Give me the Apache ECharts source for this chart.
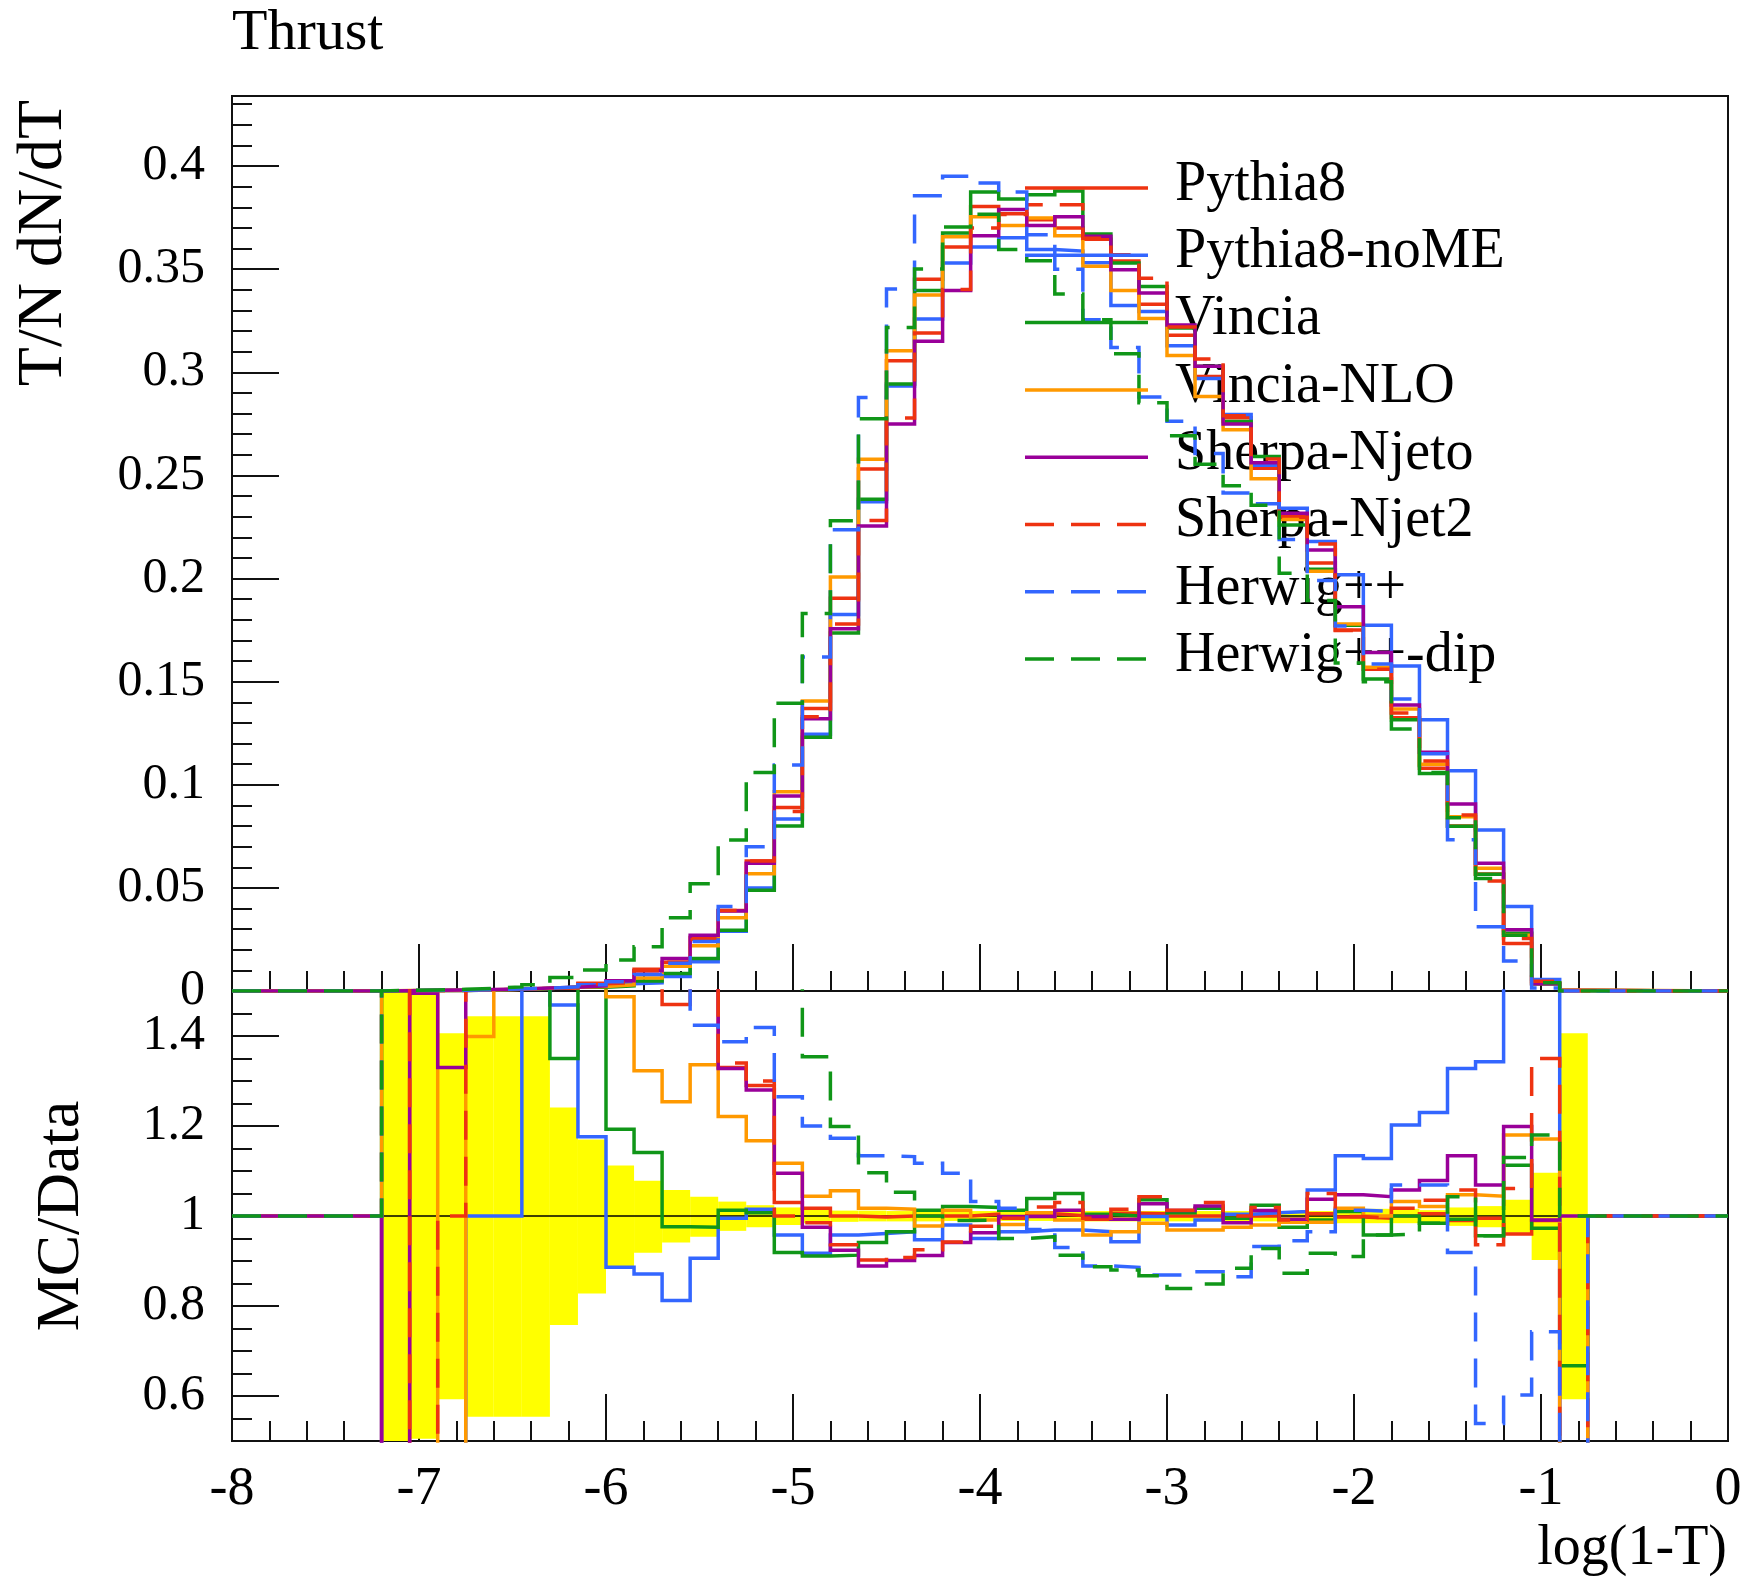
<!DOCTYPE html>
<html>
<head>
<meta charset="utf-8">
<script src="https://cdn.jsdelivr.net/npm/echarts@6/dist/echarts.min.js"></script>
<style>
  html, body { margin: 0; padding: 0; background: #ffffff; }
  #chart { width: 1747px; height: 1580px; }
</style>
</head>
<body>
<div id="chart"></div>
<script>
// ---- Binning of log(1-T) ----
const binEdges = [-7.2, -7.05, -6.9, -6.75, -6.6, -6.45, -6.3, -6.15, -6.0, -5.85, -5.7, -5.55,
  -5.4, -5.25, -5.1, -4.95, -4.8, -4.65, -4.5, -4.35, -4.2, -4.05, -3.9, -3.75, -3.6, -3.45,
  -3.3, -3.15, -3.0, -2.85, -2.7, -2.55, -2.4, -2.25, -2.1, -1.95, -1.8, -1.65, -1.5, -1.35,
  -1.2, -1.05, -0.9, -0.75];

// ---- T/N dN/dT per bin ----
const distPythia8 = [0.0001, 0.0002, 0.0004, 0.0005, 0.0008, 0.0012, 0.0018, 0.0038, 0.0043, 0.0105, 0.014, 0.026,
  0.039, 0.063, 0.089, 0.137, 0.1904, 0.2531, 0.3056, 0.3451, 0.3608, 0.3804, 0.3769, 0.374, 0.37, 0.3645,
  0.354, 0.333, 0.318, 0.298, 0.278, 0.2535, 0.23, 0.2075, 0.175, 0.156, 0.1325, 0.108, 0.080, 0.0567,
  0.023, 0.0035, 0.0002];
const distPythia8noME = [0.0001, 0.0002, 0.0003, 0.0005, 0.0008, 0.0012, 0.0018, 0.003, 0.0035, 0.004, 0.007, 0.0142,
  0.029, 0.05, 0.0834, 0.1245, 0.1826, 0.2372, 0.2934, 0.3259, 0.353, 0.3608, 0.3653, 0.3596, 0.3588, 0.3532,
  0.3324, 0.3295, 0.3129, 0.297, 0.2796, 0.255, 0.2341, 0.218, 0.2019, 0.1773, 0.1576, 0.1315, 0.1068, 0.0781,
  0.041, 0.0056, 0.0002];
const distVincia = [0.0001, 0.0002, 0.0003, 0.0005, 0.0008, 0.0012, 0.0018, 0.0018, 0.0025, 0.0048, 0.0085, 0.0158,
  0.0295, 0.0488, 0.080, 0.123, 0.1736, 0.2384, 0.2943, 0.3397, 0.3676, 0.3875, 0.384, 0.3861, 0.3879, 0.3671,
  0.353, 0.3416, 0.3215, 0.303, 0.2762, 0.2592, 0.226, 0.2045, 0.1773, 0.1513, 0.1315, 0.1055, 0.0799, 0.0566,
  0.028, 0.0035, 0.0002];
const distVinciaNLO = [0.0002, 0.0003, 0.0002, 0.0006, 0.0009, 0.0013, 0.0018, 0.0022, 0.003, 0.0063, 0.012, 0.022,
  0.0355, 0.0568, 0.0966, 0.1406, 0.2008, 0.2578, 0.3105, 0.3375, 0.3657, 0.3754, 0.3712, 0.3748, 0.3662, 0.3515,
  0.3397, 0.3261, 0.3082, 0.2883, 0.2722, 0.2484, 0.2286, 0.2035, 0.178, 0.157, 0.1367, 0.110, 0.0845, 0.0595,
  0.027, 0.004, 0.0005];
const distSherpaNjet0 = [0.0001, 0.0004, 0.0005, 0.0007, 0.001, 0.0014, 0.0018, 0.0025, 0.005, 0.0098, 0.0158, 0.027,
  0.0388, 0.062, 0.0946, 0.132, 0.1757, 0.2255, 0.2749, 0.3151, 0.3397, 0.3662, 0.379, 0.3712, 0.3754, 0.366,
  0.3498, 0.3385, 0.3229, 0.303, 0.275, 0.2562, 0.2317, 0.2138, 0.1863, 0.1642, 0.1387, 0.1158, 0.0907, 0.062,
  0.0297, 0.0035, 0.0002];
const distSherpaNjet2 = [0.0002, 0.0001, 0.0003, 0.0006, 0.0009, 0.0013, 0.0015, 0.0035, 0.004, 0.0098, 0.014, 0.025,
  0.039, 0.063, 0.087, 0.133, 0.178, 0.2282, 0.2779, 0.3191, 0.3402, 0.37, 0.3765, 0.3813, 0.3813, 0.365,
  0.357, 0.3456, 0.322, 0.3065, 0.279, 0.258, 0.2297, 0.2167, 0.1748, 0.156, 0.1348, 0.1115, 0.0854, 0.0534,
  0.0254, 0.0047, 0.0];
const distHerwig = [0.0002, 0.0003, 0.0004, 0.0006, 0.001, 0.0014, 0.002, 0.003, 0.0045, 0.008, 0.0135, 0.024,
  0.041, 0.070, 0.1096, 0.162, 0.2237, 0.2878, 0.3404, 0.3856, 0.3951, 0.3918, 0.3875, 0.3667, 0.350, 0.3255,
  0.312, 0.288, 0.2763, 0.2606, 0.2415, 0.2363, 0.219, 0.1991, 0.177, 0.1586, 0.1416, 0.115, 0.0733, 0.0311,
  0.0146, 0.0015, 0.0];
const distHerwigDip = [0.0003, 0.0005, 0.0008, 0.0013, 0.002, 0.003, 0.0066, 0.0102, 0.015, 0.0215, 0.0355, 0.052,
  0.0732, 0.106, 0.1395, 0.183, 0.228, 0.2775, 0.3217, 0.3501, 0.3705, 0.3766, 0.3596, 0.3541, 0.338, 0.3255,
  0.309, 0.2853, 0.2692, 0.2554, 0.245, 0.2355, 0.2026, 0.1893, 0.159, 0.150, 0.127, 0.106, 0.084, 0.0545,
  0.027, 0.004, 0.0];

// ---- MC/Data per bin (UP / DN lie outside the 0.5-1.5 window) ----
const UP = 3, DN = -1;
const ratioPythia8 = [DN, UP, UP, UP, UP, UP, UP, UP, UP, UP, 1.47, UP, 1.33, 1.29, 1.03, 1.017, 1.0, 0.998,
  1.0, 1.0, 1.0, 1.004, 0.996, 1.005, 1.001, 0.993, 1.006, 1.005, 1.0, 1.0, 0.995, 1.0, 0.99, 1.005,
  0.998, 0.995, 1.0, 1.005, 0.99, 0.995, 0.96, 0.99, DN];
const ratioPythia8noME = [DN, DN, DN, 1.0, 1.0, UP, 1.469, 1.176, 0.886, 0.871, 0.812, 0.906, 0.995, 1.015,
  0.958, 0.917, 0.958, 0.961, 0.965, 0.947, 0.98, 0.95, 0.965, 0.969, 0.969, 0.965, 0.943, 0.999, 0.98,
  0.991, 1.004, 1.007, 1.01, 1.058, 1.134, 1.128, 1.202, 1.23, 1.328, 1.343, UP, UP, DN];
const ratioVincia = [UP, UP, UP, UP, UP, UP, 1.35, UP, 1.193, 1.141, 0.976, 0.975, 1.013, 1.007, 0.919, 0.911,
  0.913, 0.941, 0.965, 1.013, 1.021, 1.019, 1.013, 1.039, 1.05, 1.004, 1.0, 1.036, 1.007, 1.017, 0.995,
  1.024, 0.975, 0.991, 1.01, 0.958, 1.0, 0.984, 0.993, 0.956, 1.113, 0.973, 0.667];
const ratioVinciaNLO = [UP, UP, DN, 1.399, UP, UP, UP, UP, 1.487, 1.323, 1.254, 1.336, 1.221, 1.167, 1.117,
  1.044, 1.056, 1.017, 1.015, 0.978, 1.013, 0.991, 0.981, 1.007, 0.991, 0.958, 0.965, 0.984, 0.969, 0.969,
  0.975, 0.98, 0.986, 0.986, 1.017, 1.0, 1.032, 1.021, 1.047, 1.044, 1.18, 1.171, DN];
const ratioSherpaNjet0 = [DN, 1.495, 1.33, UP, UP, UP, UP, UP, UP, UP, UP, UP, 1.328, 1.28, 1.095, 0.975,
  0.924, 0.889, 0.901, 0.912, 0.941, 0.963, 0.999, 0.999, 1.013, 0.999, 0.993, 1.027, 1.012, 1.022, 0.985,
  1.012, 0.993, 1.037, 1.047, 1.043, 1.058, 1.079, 1.134, 1.069, 1.199, 0.991, 1.0];
const ratioSherpaNjet2 = [UP, DN, 1.0, UP, UP, UP, UP, UP, UP, UP, UP, UP, 1.34, 1.30, 1.0, 0.985, 0.936,
  0.902, 0.908, 0.925, 0.942, 0.977, 0.995, 1.02, 1.03, 0.995, 1.015, 1.043, 1.013, 1.03, 1.0, 1.019,
  0.991, 1.05, 0.999, 0.995, 1.017, 1.035, 1.058, 0.936, 1.061, 1.35, DN];
const ratioHerwig = [UP, UP, UP, UP, UP, UP, UP, UP, UP, UP, UP, 1.424, 1.387, 1.419, 1.265, 1.20, 1.173,
  1.134, 1.132, 1.117, 1.095, 1.032, 1.017, 0.97, 0.93, 0.889, 0.886, 0.869, 0.869, 0.876, 0.865, 0.932,
  0.945, 0.965, 1.013, 1.01, 1.069, 1.069, 0.919, 0.539, 0.602, 0.743, DN];
const ratioHerwigDip = [UP, UP, UP, UP, UP, UP, UP, UP, UP, UP, UP, UP, UP, UP, UP, 1.354, 1.199, 1.096,
  1.053, 1.0, 0.99, 0.991, 0.95, 0.954, 0.913, 0.887, 0.88, 0.867, 0.839, 0.849, 0.884, 0.928, 0.873,
  0.917, 0.91, 0.958, 0.96, 0.984, 1.043, 0.956, 1.13, 1.18, 1.0];

// ---- Data uncertainty band (relative) ----
const bandLow = [0.3, 0.505, 0.593, 0.554, 0.554, 0.554, 0.758, 0.828, 0.889, 0.9185, 0.941, 0.954, 0.967,
  0.975, 0.98, 0.984, 0.987, 0.988, 0.988, 0.988, 0.989, 0.989, 0.989, 0.989, 0.989, 0.988, 0.988, 0.988,
  0.988, 0.988, 0.988, 0.988, 0.988, 0.988, 0.984, 0.984, 0.984, 0.984, 0.978, 0.975, 0.963, 0.902, 0.593];
const bandHigh = [1.7, 1.7, 1.406, 1.444, 1.444, 1.444, 1.241, 1.170, 1.112, 1.0785, 1.058, 1.043, 1.032,
  1.024, 1.019, 1.015, 1.012, 1.012, 1.011, 1.011, 1.011, 1.011, 1.011, 1.011, 1.011, 1.011, 1.011, 1.011,
  1.011, 1.011, 1.011, 1.011, 1.011, 1.011, 1.016, 1.016, 1.016, 1.013, 1.019, 1.022, 1.036, 1.096, 1.406];

// ---- Axis ticks ----
const distTickValues = [0, 0.05, 0.1, 0.15, 0.2, 0.25, 0.3, 0.35, 0.4];
const distTickLabels = ['0', '0.05', '0.1', '0.15', '0.2', '0.25', '0.3', '0.35', '0.4'];
const distMinorValues = [0.01, 0.02, 0.03, 0.04, 0.06, 0.07, 0.08, 0.09, 0.11, 0.12, 0.13, 0.14, 0.16, 0.17,
  0.18, 0.19, 0.21, 0.22, 0.23, 0.24, 0.26, 0.27, 0.28, 0.29, 0.31, 0.32, 0.33, 0.34, 0.36, 0.37, 0.38,
  0.39, 0.41, 0.42, 0.43];
const ratioTickValues = [0.6, 0.8, 1.0, 1.2, 1.4];
const ratioTickLabels = ['0.6', '0.8', '1', '1.2', '1.4'];
const ratioMinorValues = [0.55, 0.65, 0.7, 0.75, 0.85, 0.9, 0.95, 1.05, 1.1, 1.15, 1.25, 1.3, 1.35, 1.45];

// ---- Generators ----
const generators = [
  { name: 'Pythia8',       color: '#ee3311', dashed: false, dist: distPythia8,     ratio: ratioPythia8 },
  { name: 'Pythia8-noME',  color: '#3366ff', dashed: false, dist: distPythia8noME, ratio: ratioPythia8noME },
  { name: 'Vincia',        color: '#109618', dashed: false, dist: distVincia,      ratio: ratioVincia },
  { name: 'Vincia-NLO',    color: '#ff9900', dashed: false, dist: distVinciaNLO,   ratio: ratioVinciaNLO },
  { name: 'Sherpa-Njeto',  color: '#990099', dashed: false, dist: distSherpaNjet0, ratio: ratioSherpaNjet0 },
  { name: 'Sherpa-Njet2',  color: '#ee3311', dashed: true,  dist: distSherpaNjet2, ratio: ratioSherpaNjet2 },
  { name: 'Herwig++',      color: '#3366ff', dashed: true,  dist: distHerwig,      ratio: ratioHerwig },
  { name: 'Herwig++-dip',  color: '#109618', dashed: true,  dist: distHerwigDip,   ratio: ratioHerwigDip }
];

// ---- Layout ----
const FONT = '"Liberation Serif", "Times New Roman", serif';
const X_MIN = -8, X_MAX = 0;
const PLOT_LEFT = 232, PLOT_RIGHT = 1728;
const TOP_Y = 96, MID_Y = 991, BOT_Y = 1441;
const LINE_W = 3.5;
const DASH = [29, 17];

// histogram outline: flat at `outside` beyond the binned range
function stepPath(values, outside) {
  const pts = [[X_MIN, outside], [binEdges[0], outside]];
  for (let k = 0; k < values.length; k++) {
    pts.push([binEdges[k], values[k]], [binEdges[k + 1], values[k]]);
  }
  pts.push([binEdges[binEdges.length - 1], outside], [X_MAX, outside]);
  return pts;
}

const tickStyle = { color: '#111', width: 2 };

const xAxisBase = {
  type: 'value', min: X_MIN, max: X_MAX, interval: 1, position: 'bottom',
  axisLine: { show: false, onZero: false },
  splitLine: { show: false },
  axisTick: { show: true, inside: true, length: 47, lineStyle: tickStyle },
  minorTick: { show: true, splitNumber: 5, length: 20, lineStyle: tickStyle },
  minorSplitLine: { show: false }
};

function pickLabel(values, labels) {
  return v => {
    const i = values.findIndex(t => Math.abs(t - v) < 1e-9);
    return i >= 0 ? labels[i] : '';
  };
}

// a left-hand axis whose ticks sit at the listed values
function yAxisDef(gridIndex, min, max, values, labels, tickLen) {
  return {
    type: 'value', gridIndex, min, max, position: 'left', offset: 0,
    axisLine: { show: false, onZero: false },
    splitLine: { show: false }, minorSplitLine: { show: false },
    axisTick: { show: true, inside: true, length: tickLen, lineStyle: tickStyle, customValues: values },
    axisLabel: labels ? {
      show: true, margin: 27, fontFamily: FONT, fontSize: 50, color: '#000',
      customValues: values, formatter: pickLabel(values, labels)
    } : { show: false }
  };
}

const option = {
  animation: false,
  backgroundColor: '#ffffff',
  grid: [
    { left: PLOT_LEFT, top: TOP_Y, width: PLOT_RIGHT - PLOT_LEFT, height: MID_Y - TOP_Y,
      show: true, borderColor: '#111', borderWidth: 2, backgroundColor: 'transparent', containLabel: false, outerBoundsMode: 'none' },
    { left: PLOT_LEFT, top: MID_Y, width: PLOT_RIGHT - PLOT_LEFT, height: BOT_Y - MID_Y,
      show: true, borderColor: '#111', borderWidth: 2, backgroundColor: 'transparent', containLabel: false, outerBoundsMode: 'none' }
  ],
  xAxis: [
    Object.assign({}, xAxisBase, { gridIndex: 0, axisLabel: { show: false } }),
    Object.assign({}, xAxisBase, { gridIndex: 1,
      axisLabel: { show: true, margin: 22, fontFamily: FONT, fontSize: 54, color: '#000' } })
  ],
  yAxis: [
    yAxisDef(0, 0, 0.434, distTickValues, distTickLabels, 47),
    yAxisDef(0, 0, 0.434, distMinorValues, null, 20),
    yAxisDef(1, 0.5, 1.5, ratioTickValues, ratioTickLabels, 47),
    yAxisDef(1, 0.5, 1.5, ratioMinorValues, null, 20)
  ],
  series: []
};

// data uncertainty band in the ratio panel
option.series.push({
  type: 'custom', name: 'data band', xAxisIndex: 1, yAxisIndex: 2, z: 1, silent: true, clip: true,
  data: bandLow.map((lo, k) => [binEdges[k], binEdges[k + 1], lo, bandHigh[k]]),
  encode: { x: [0, 1], y: [2, 3] },
  renderItem(params, api) {
    const a = api.coord([api.value(0), api.value(3)]);
    const b = api.coord([api.value(1), api.value(2)]);
    const cs = params.coordSys;
    const rect = echarts.graphic.clipRectByRect(
      { x: a[0], y: a[1], width: b[0] - a[0], height: b[1] - a[1] },
      { x: cs.x, y: cs.y, width: cs.width, height: cs.height });
    return rect && { type: 'rect', shape: rect, style: { fill: '#ffff00' } };
  }
});

// reference line at MC/Data = 1
option.series.push({
  type: 'line', name: 'unity', xAxisIndex: 1, yAxisIndex: 2, z: 2, silent: true,
  symbol: 'none', data: [[X_MIN, 1], [X_MAX, 1]],
  lineStyle: { color: '#000', width: 1.5 }
});

generators.forEach(g => {
  const ls = { color: g.color, width: LINE_W, type: g.dashed ? DASH : 'solid', cap: 'butt', join: 'miter' };
  option.series.push({
    type: 'line', name: g.name, xAxisIndex: 0, yAxisIndex: 0, z: 3, clip: true,
    symbol: 'none', showSymbol: false, silent: true,
    data: stepPath(g.dist, 0), lineStyle: ls
  });
  option.series.push({
    type: 'line', name: g.name + ' / data', xAxisIndex: 1, yAxisIndex: 2, z: 3, clip: true,
    symbol: 'none', showSymbol: false, silent: true,
    data: stepPath(g.ratio, 1), lineStyle: ls
  });
});

// legend, titles
const LEG_X0 = 1025, LEG_X1 = 1148, LEG_TX = 1175, LEG_Y0 = 188, LEG_DY = 67.3;
const graphics = [];
generators.forEach((g, i) => {
  const y = LEG_Y0 + i * LEG_DY;
  graphics.push({
    type: 'line', z: 5, silent: true,
    shape: { x1: LEG_X0, y1: y, x2: LEG_X1, y2: y },
    style: { stroke: g.color, lineWidth: LINE_W, lineDash: g.dashed ? DASH : null }
  });
  graphics.push({
    type: 'text', z: 0, silent: true, x: LEG_TX, y: y - 3,
    style: { text: g.name, font: '56px ' + FONT, fill: '#000', align: 'left', verticalAlign: 'middle' }
  });
});
graphics.push({
  type: 'text', silent: true, x: 232, y: 34,
  style: { text: 'Thrust', font: '58px ' + FONT, fill: '#000', align: 'left', verticalAlign: 'middle' }
});
graphics.push({
  type: 'text', silent: true, x: 44, y: 100, rotation: Math.PI / 2,
  style: { text: 'T/N dN/dT', font: '64px ' + FONT, fill: '#000', align: 'right', verticalAlign: 'middle' }
});
graphics.push({
  type: 'text', silent: true, x: 62, y: 1216, rotation: Math.PI / 2,
  style: { text: 'MC/Data', font: '62px ' + FONT, fill: '#000', align: 'center', verticalAlign: 'middle' }
});
graphics.push({
  type: 'text', silent: true, x: 1727, y: 1549,
  style: { text: 'log(1-T)', font: '56px ' + FONT, fill: '#000', align: 'right', verticalAlign: 'middle' }
});
option.graphic = { elements: graphics };

const chart = echarts.init(document.getElementById('chart'), null, { renderer: 'canvas' });
chart.setOption(option);
</script>
</body>
</html>
